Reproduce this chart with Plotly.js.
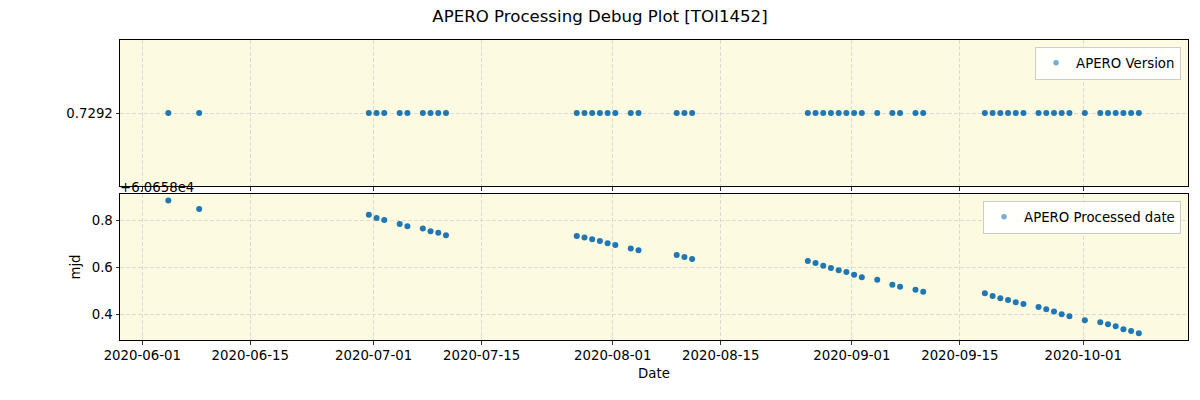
<!DOCTYPE html>
<html>
<head>
<meta charset="utf-8">
<script src="https://cdn.plot.ly/plotly-3.0.1.min.js"></script>
<style>html,body{margin:0;padding:0;background:#fff;}#chart{width:1200px;height:400px;}</style>
</head>
<body>
<div id="chart"></div>
<script>
// Observation dates (processing runs)
const dates = [
  "2020-06-04 09:00","2020-06-08 09:00",
  "2020-06-30 09:00","2020-07-01 09:00","2020-07-02 09:00","2020-07-04 09:00","2020-07-05 09:00",
  "2020-07-07 09:00","2020-07-08 09:00","2020-07-09 09:00","2020-07-10 09:00",
  "2020-07-27 08:00","2020-07-28 08:00","2020-07-29 08:00","2020-07-30 08:00","2020-07-31 08:00","2020-08-01 08:00",
  "2020-08-03 08:00","2020-08-04 08:00",
  "2020-08-09 07:00","2020-08-10 07:00","2020-08-11 07:00",
  "2020-08-26 07:00","2020-08-27 07:00","2020-08-28 07:00","2020-08-29 07:00","2020-08-30 07:00","2020-08-31 07:00",
  "2020-09-01 07:00","2020-09-02 07:00",
  "2020-09-04 07:00",
  "2020-09-06 06:00","2020-09-07 06:00",
  "2020-09-09 06:00","2020-09-10 06:00",
  "2020-09-18 06:00","2020-09-19 06:00","2020-09-20 06:00","2020-09-21 06:00","2020-09-22 06:00","2020-09-23 06:00",
  "2020-09-25 05:00","2020-09-26 05:00","2020-09-27 05:00","2020-09-28 05:00","2020-09-29 05:00",
  "2020-10-01 05:00",
  "2020-10-03 05:00","2020-10-04 05:00","2020-10-05 05:00","2020-10-06 05:00","2020-10-07 05:00","2020-10-08 05:00"
];
// APERO version per run (constant)
const aperoVersion = dates.map(() => 0.7292);
// APERO processed date, MJD minus offset
const mjdOffset = 60658;
const processedMjd = [
  0.883, 0.847,
  0.823, 0.809, 0.800, 0.783, 0.774, 0.764, 0.753, 0.746, 0.736,
  0.732, 0.726, 0.719, 0.711, 0.702, 0.694,
  0.679, 0.672,
  0.651, 0.643, 0.634,
  0.626, 0.617, 0.606, 0.596, 0.587, 0.579, 0.567, 0.557,
  0.546,
  0.525, 0.517,
  0.504, 0.495,
  0.489, 0.477, 0.468, 0.460, 0.451, 0.443,
  0.430, 0.421, 0.411, 0.400, 0.391,
  0.374,
  0.366, 0.357, 0.349, 0.336, 0.328, 0.319
];
const xTickVals = ["2020-06-01","2020-06-15","2020-07-01","2020-07-15","2020-08-01","2020-08-15","2020-09-01","2020-09-15","2020-10-01"];
const xRange = ["2020-05-29 02:40","2020-10-14 14:00"];
const yTicks2 = [0.4, 0.6, 0.8];

const blue = "#1f77b4";
const font = "DejaVu Sans, sans-serif";
const marker = {color: blue, size: 6};

const traces = [
  {x: dates, y: aperoVersion, type: "scatter", mode: "markers", marker: marker,
   xaxis: "x", yaxis: "y", showlegend: false, hoverinfo: "x+y"},
  {x: [null], y: [null], type: "scatter", mode: "markers", name: "APERO Version",
   marker: {color: blue, size: 5.5}, opacity: 0.6, xaxis: "x", yaxis: "y", legend: "legend"},
  {x: dates, y: processedMjd, type: "scatter", mode: "markers", marker: marker,
   xaxis: "x2", yaxis: "y2", showlegend: false},
  {x: [null], y: [null], type: "scatter", mode: "markers", name: "APERO Processed date",
   marker: {color: blue, size: 5.5}, opacity: 0.6, xaxis: "x2", yaxis: "y2", legend: "legend2"}
];

const axisCommon = {
  showline: true, linecolor: "#000", linewidth: 1, mirror: true,
  ticks: "outside", ticklen: 3.5, tickwidth: 0.8, tickcolor: "#000",
  showgrid: true, gridcolor: "#d3d3d3", griddash: "4px,2px", gridwidth: 0.8,
  zeroline: false, tickfont: {family: font, size: 13.3, color: "#000"}
};

const legendCommon = {
  bgcolor: "rgba(255,255,255,0.85)", bordercolor: "#cccccc", borderwidth: 1,
  font: {family: font, size: 13.3, color: "#000"},
  xanchor: "right", yanchor: "top", itemwidth: 30
};

const layout = {
  width: 1200, height: 400,
  margin: {l: 120, r: 12, t: 40, b: 60},
  paper_bgcolor: "#fff",
  plot_bgcolor: "#fcfbe1",
  font: {family: font, color: "#000"},
  title: {text: "APERO Processing Debug Plot [TOI1452]", font: {family: font, size: 16.6, color: "#000"},
          x: 0.5, xanchor: "center", xref: "container", y: 0.96, yanchor: "middle", yref: "container"},
  xaxis: Object.assign({}, axisCommon, {
    domain: [0, 1], anchor: "y", type: "date", range: xRange,
    tickvals: xTickVals, showticklabels: false
  }),
  yaxis: Object.assign({}, axisCommon, {
    domain: [0.5133, 1], anchor: "x", range: [0.7292 - 0.001, 0.7292 + 0.001],
    tickvals: [0.7292], ticktext: ["0.7292"]
  }),
  xaxis2: Object.assign({}, axisCommon, {
    domain: [0, 1], anchor: "y2", type: "date", range: xRange, matches: "x",
    tickvals: xTickVals, tickformat: "%Y-%m-%d",
    title: {text: "Date", font: {family: font, size: 13.3, color: "#000"}, standoff: 6}
  }),
  yaxis2: Object.assign({}, axisCommon, {
    domain: [0, 0.4867], anchor: "x2", range: [0.29, 0.911],
    tickvals: yTicks2, ticktext: yTicks2.map(v => v.toFixed(1)),
    title: {text: "mjd", font: {family: font, size: 13.3, color: "#000"}, standoff: 8}
  }),
  legend: Object.assign({}, legendCommon, {x: 0.9935, y: 0.978, yref: "paper"}),
  legend2: Object.assign({}, legendCommon, {x: 0.9935, y: 0.465, yref: "paper"}),
  annotations: [
    {text: "+" + (mjdOffset / 1e4).toFixed(4) + "e4", xref: "paper", yref: "paper", x: 0, y: 0.4867,
     xanchor: "left", yanchor: "bottom", showarrow: false, yshift: -3, xshift: -2,
     font: {family: font, size: 13.3, color: "#000"}}
  ],
  showlegend: true
};

Plotly.newPlot("chart", traces, layout, {staticPlot: true, displayModeBar: false});
</script>
</body>
</html>
